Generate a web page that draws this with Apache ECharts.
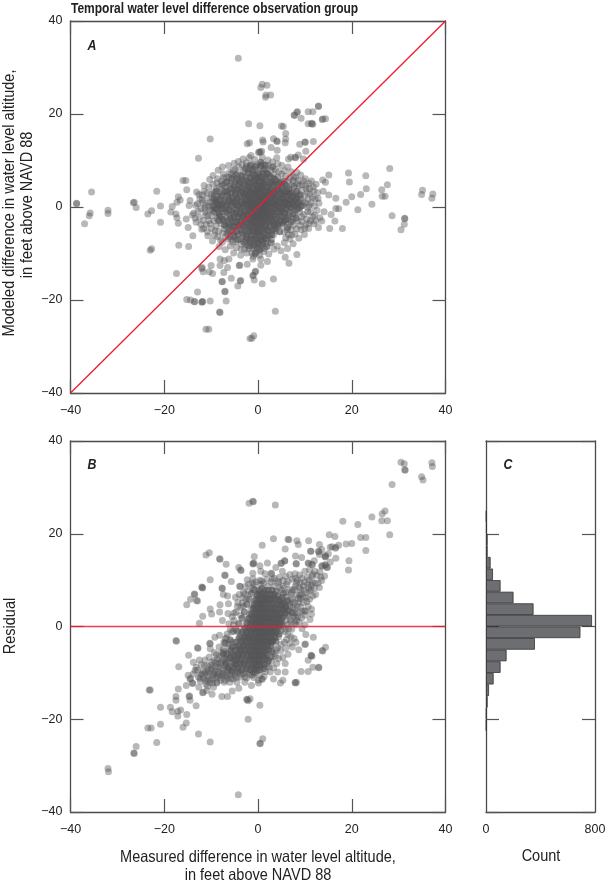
<!DOCTYPE html>
<html><head><meta charset="utf-8">
<style>html,body{margin:0;padding:0;background:#fff}#c{width:606px;height:884px}</style>
<script src="https://cdn.jsdelivr.net/npm/echarts@6/dist/echarts.min.js"></script>
</head><body><div id="c"></div>
<script>
const titleText = "Temporal water level difference observation group";
const outerA = [[-38.7,.8],[-38.7,.7],[-35.5,3.2],[-35.8,-1.3],[-36,-1.9],[-37,-3.6],[-32,-.7],[-32,-1.4],[-26.6,.9],[-26.4,1],[-26,-.1],[-21.6,3.4],[-20.8,.2],[-22.7,-.8],[-23.5,-1.5],[-20.8,-3.3],[-23,-9.3],[-22.7,-9],[-16.9,-8.2],[-14.8,-8.5],[-16,5.7],[-15.4,5.7],[-15.2,3.7],[-17,2.2],[-16.6,1.5],[-17.3,1],[-18.3,.1],[-18.6,-1.1],[-17.5,-1.5],[-17.3,-2.3],[-17,-3.5],[-15.3,-2.6],[-14.9,-4.4],[-13.9,-6.2],[-14.7,.3],[-14.5,1.4],[-14,-1.7],
[28.1,8.3],[19.3,7.3],[23,6.7],[19.5,5.4],[27.6,4.8],[15.1,6.9],[14.4,5.3],[13.8,5.8],[23.1,3.9],[21.9,2.7],[26.4,3.7],[26.5,2.3],[27.1,2.3],[20,2.2],[18.8,1],[24.3,.6],[21.3,-.6],[16.6,1.9],[15.1,2.6],[13.9,3.4],[16.6,-.3],[17.2,-.4],[15.6,-1.6],[14.1,-1],[16.4,-3],[18,-4.6],[15.3,-4.6],[13.6,-3],[28.6,-1.9],[31.3,-2.4],[31.3,-2.5],[31.2,-3.7],[30.5,-4.9],[35.1,3.6],[34.9,2.7],[37.3,2.8],[37.1,1.9],
[-4.2,32],[.9,26.4],[1.9,26.2],[.6,25.7],[1.7,24.1],[2.7,24.1],[1.6,23.6],[12.9,21.7],[12.9,21.6],[8.4,20.5],[8.3,20.4],[7.7,19.8],[7.8,19.7],[10.7,20.5],[11.7,20.5],[9.2,19.1],[10.7,17.9],[11.4,17.9],[11.5,18],[11.7,17.8],[13.8,18.9],[13.7,18.8],[14.4,19],[-2,17.9],[.4,17.5],[5,17.4],[5.4,17.3],[5.9,15.8],[5.9,14.6],[5.8,13.8],[3.3,14.7],[4,14.2],[4.1,14.1],[1,14.4],[1.1,14],[-1.8,13.8],[-2.3,13.6],[-10.2,14.6],[10,14],[10.1,13.9],[11.8,14.1],[8.9,13.5],[2.8,12.8],[4.1,12.2],[10.2,12],[.3,11.9],[.5,11.8],[.1,11.7],[.8,12],[-1.5,11.1],[-12.7,10.5],[4,10.6],[8.6,11.2],[7.9,10.7],[8,10.6],[7,10.7],[6.5,10.3],[9.7,10.3],
[-17.4,-14.3],[-12.9,-18.3],[-15.2,-19.9],[-14.4,-20],[-13.6,-20.4],[-13.5,-20.3],[-11.9,-20.4],[-12,-20.5],[-11.8,-20.3],[-10.2,-20.2],[-6.8,-20.2],[-7.1,-18.2],[-7,-18.1],[-8.2,-22.6],[-8.1,-22.7],[-7.7,-16.1],[-7.6,-16],[-5.7,-15.3],[-3.7,-15.8],[-3.8,-15.9],[-4.3,-17],[-1,-14.7],[-1.1,-14.8],[-.5,-13.8],[-.6,-13.9],[-.8,-15.7],[.9,-16.5],[3.3,-15.5],[3.7,-22.4],[-11.1,-26.3],[-10.5,-26.3],[-1.7,-28.3],[-1.3,-28.2],[-.9,-27.7],[-11.9,-13],[-10,-12.6],[-8.1,-12.6],[-8.1,-11.2],[-6.5,-13],[-7.3,-14.1],[-10.4,-13.9],[-9.7,-14.3],[-12,-13.2],[-11.7,-13.9],[-7.2,-11.5],[-6.2,-11.2],[-3.9,-12.5],[-4,-12.6],[-2.3,-12.3],[-1.1,-11.2],[.6,-11.2],[.6,-12.5],[2,-11.7],[5.8,-10.8],[6.6,-12.1],[8.3,-10.2]];
const haloA = [[-13.1,3.2],[-12.4,1.8],[-13.3,.4],[-12.8,-.9],[-13.4,-2.4],[-12.2,-3.7],[-11.5,4.6],[-11.8,.9],[-11.1,-1.8],[-11.6,-4.6],[-10.7,-6.2],[-10.3,5.9],[-10.9,3],[-10.5,-2.9],[-9.6,6.8],[-9.9,-.6],[-9.2,-5.1],[-9.7,-7.3],[-8.5,7.9],[-8.8,5.2],[-8.6,-6.4],[-8.3,-8.5],[-7.6,8.6],[-7.3,6.3],[-7.6,-7.6],[-7,-9.2],[-6.3,8.9],[-6.1,7.4],[-6.4,-6.9],[-5.9,-8.4],[-5.1,9.4],[-5.3,7.9],[-5.2,-9.9],[-4.6,-8.7],[-4.2,9.8],[-3.7,-10.4],[-3.2,10.3],[-2.4,-9.9],[-1.9,10.6],[-1,-10.6],[-.7,10.2],[.3,-10.4],[.9,10.7],[1.2,-9.6],[2.1,10.1],[2.3,-10.1],[3.1,9.7],[3.4,-9.1],[4.2,9.3],[4.1,-8.4],[5.1,8.9],[4.9,-9.4],[5.7,7.8],[5.6,-7.7],[6.4,8.6],[6.3,-8.9],[7.1,7.6],[6.8,-6.9],[7.6,6.4],[7.5,-7.9],[8.3,7.5],[7.9,-5.8],[8.6,5.7],[8.7,-6.7],[9.1,6.9],[9.2,-4.9],[9.4,4.8],[9.9,-5.9],[10.1,6.1],[10.2,-3.8],[10.3,3.9],[10.8,-4.6],[10.9,5.1],[11.2,-2.9],[11.1,2.8],[11.9,-3.6],[11.8,4.3],[12.1,-1.8],[12.2,1.7],[12.7,3.1],[12.6,-.7],[13,.8],[13.2,-2.3],[12.9,-4.4],[-6.6,-5.7],[-5.7,-7],[8.9,-.2],[9.6,1.1],[9.3,-2.1],[10.6,-1],[10.9,.4],[-9.8,2.1],[-10.6,.2],[-11.4,-.3],[-11.9,2.6]];
const armsA = [[-13.7,-1.3],[-13.2,-3.3],[-12.9,.7],[-12.6,2.7],[-12.5,-2.2],[-12.2,-.4],[-12,-4.8],[-11.9,1.5],[-11.7,-2.9],[-11.5,3.4],[-11.3,-1.1],[-11.2,.4],[-11,-3.8],[-10.9,1.9],[-10.8,-5.3],[-10.7,-1.9],[-10.5,4.3],[-10.4,.9],[-10.3,-.7],[-10.2,-3.6],[-10,2.8],[-9.9,-4.7],[-9.8,-1.9],[-9.7,.2],[-9.6,4.9],[-9.5,3.3],[-9.4,-3],[-9.3,-6.1],[-9.1,1.2],[-9,-1.2],[-8.9,-4.1],[-8.8,3.9],[-8.7,-.4],[-8.6,6.1],[-8.5,1.6],[-8.4,-5.2],[-8.3,-2],[-8.2,4.4],[-8,-7.1],[-7.9,-3.6],[-7.8,5.6],[-7.7,.4],[-7.5,-5.6],[-7.4,7.1],[-7.2,-4.7],[-7,5.1],[-6.9,-6.4],[-6.7,6.4],[-6.4,-5.4],[-6.2,6.3],[-5.9,-6.4],[-5.7,7.1],[-5.4,-7.6],[-4.9,8.1],[-4.7,-7.4],[-4.1,8.6],[-3.6,-9.1],[-3.4,9.1],[-2.5,9.5],[7.6,-3.9],[7.9,-1.6],[8.1,3],[8.2,-4.7],[8.4,.7],[8.5,-3],[8.6,2.4],[8.8,4.6],[8.9,-1.1],[9,-4],[9.1,1.7],[9.3,3.6],[9.4,-3.1],[9.6,.3],[9.7,5.6],[9.8,-1.6],[9.9,2.4],[10,-4.6],[10.1,.9],[10.2,4.6],[10.4,-2.6],[10.5,3.1],[10.6,-.1],[10.7,1.7],[10.9,-3.5],[11,4],[11.2,-1.1],[11.3,.9],[11.4,5.6],[11.6,2.1],[11.7,-2.1],[11.9,3.4],[12,.2],[12.3,-3],[12.4,4.9],[12.8,1.9],[5.6,-5.4],[5.9,-6.6],[6.2,-4.9],[6.5,-5.9],[6.7,-3.7],[7,-4.9],[7.2,-6],[7.4,-2.6],[6.5,5.4],[6.8,6.3],[7.2,4.9],[7.5,5.7],[8,6.4],[8.4,5],[5.9,6.6],[5,7.1],[4.4,7.6],[3.7,8.1]];
const coreA = [[-.2,9.1],[1,9.3],[-1.4,9.2],[2.2,8.9],[-2.5,8.8],[.4,8.4],[-.8,8.1],[1.6,8.2],[-1.9,8.3],[2.8,7.9],[-3.1,7.7],[.1,7.5],[1,7.2],[-1.1,7.3],[2,7.4],[-2.2,7.1],[3.4,7],[-3.6,6.9],[-4.4,7.2],[.5,6.6],[-.4,6.3],[1.4,6.5],[-1.5,6.4],[2.4,6.7],[-2.6,6.3],[3.3,6.2],[-3.5,6.1],[4.2,6.4],[-4.6,6],[-5.2,6.5],[.1,5.7],[.9,5.4],[-.9,5.6],[1.9,5.6],[-1.9,5.3],[2.9,5.3],[-2.9,5.5],[3.9,5.5],[-3.9,5.2],[4.8,5.3],[-4.8,5.4],[-5.7,5.1],[5.6,5.6],[-.3,4.8],[.5,4.5],[1.4,4.7],[-1.3,4.6],[2.3,4.4],[-2.2,4.8],[3.3,4.6],[-3.3,4.4],[4.2,4.3],[-4.2,4.6],[5.2,4.7],[-5.1,4.3],[6.1,4.5],[-6.1,4.6],[-6.9,4.1],[.1,3.9],[-.7,3.6],[1,3.7],[1.8,3.4],[-1.6,3.8],[2.7,3.8],[-2.5,3.5],[3.6,3.4],[-3.5,3.7],[4.6,3.6],[-4.5,3.3],[5.5,3.3],[-5.5,3.7],[6.6,3.6],[-6.5,3.2],[7.3,3.1],[-7.4,3.5],[-8.1,3.1],[-.2,2.9],[.6,2.6],[1.4,2.8],[-1,2.7],[2.2,2.5],[-1.9,2.9],[3.1,2.7],[-2.9,2.5],[4,2.4],[-3.8,2.8],[5,2.8],[-4.8,2.4],[5.9,2.4],[-5.8,2.8],[6.8,2.6],[-6.8,2.3],[7.7,2.3],[-7.7,2.7],[8.3,1.9],[-8.6,2.2],[-9.3,2.6],[.1,1.9],[-.7,1.7],[.9,1.6],[1.8,1.9],[-1.6,1.5],[2.7,1.6],[-2.4,1.9],[3.6,1.8],[-3.4,1.5],[4.5,1.5],[-4.3,1.9],[5.4,1.8],[-5.3,1.4],[6.3,1.5],[-6.2,1.8],[7.2,1.4],[-7.2,1.5],[8,1.2],[-8.1,1.6],[-9,1.3],[-9.8,1.1],[-.3,1],[.5,.8],[1.3,1],[-1.1,.7],[2.2,.6],[-2,1],[3.1,.9],[-2.9,.6],[4,.6],[-3.8,.9],[4.9,.9],[-4.7,.5],[5.8,.6],[-5.7,.9],[6.8,.8],[-6.7,.5],[7.6,.4],[-7.6,.8],[8.4,.6],[-8.5,.4],[-9.4,.3],[.1,.1],[-.6,-.2],[.9,-.1],[1.7,.1],[-1.5,-.1],[2.6,-.2],[-2.4,.1],[3.5,.1],[-3.3,-.3],[4.4,-.3],[-4.2,0],[5.3,0],[-5.2,-.3],[6.2,-.3],[-6.1,0],[7.2,-.2],[-7.1,-.4],[7.9,-.7],[-8,-.1],[-8.9,-.5],[-.2,-.9],[.6,-1.2],[1.3,-.9],[-1.1,-1.1],[2.1,-1.2],[-2,-.8],[3,-1],[-2.9,-1.3],[3.9,-1.2],[-3.8,-.9],[4.8,-.9],[-4.7,-1.3],[5.7,-1.2],[-5.6,-.9],[6.6,-1.1],[-6.5,-1.3],[-7.5,-1],[-8.4,-1.3],[-9.5,-1.1],[.1,-1.9],[-.7,-2.2],[.9,-2.1],[1.7,-1.9],[-1.5,-2],[2.6,-2.2],[-2.4,-1.9],[3.4,-1.9],[-3.3,-2.3],[4.3,-2.2],[-4.2,-1.9],[5.2,-1.9],[-5.1,-2.3],[6,-2.3],[-6,-2],[-6.9,-2.3],[-7.8,-2.1],[-8.7,-2.5],[-.3,-2.9],[.5,-3.2],[1.2,-2.9],[-1.1,-3.1],[2.1,-3.2],[-2,-2.8],[3,-2.9],[-2.8,-3.3],[3.8,-3.2],[-3.7,-2.9],[4.7,-3],[-4.6,-3.3],[5.6,-3.1],[-5.5,-2.9],[-6.4,-3.2],[-7.3,-3],[.1,-3.9],[-.6,-4.2],[.8,-4.1],[1.7,-3.9],[-1.5,-4],[2.5,-4.2],[-2.4,-3.9],[3.4,-4],[-3.2,-4.3],[4.2,-4.1],[-4.1,-3.9],[5,-4],[-5,-4.2],[-5.9,-4],[-6.7,-4.2],[-.2,-4.9],[.5,-5.2],[1.3,-4.9],[-1,-5.1],[2.1,-5.1],[-1.9,-4.9],[3,-5],[-2.8,-5.2],[3.8,-5.1],[-3.6,-4.9],[-4.5,-5.1],[-5.4,-5],[.1,-5.9],[-.6,-6.2],[.9,-6.1],[1.7,-5.9],[-1.5,-6],[2.5,-6.2],[-2.4,-5.9],[3.3,-6],[-3.3,-6.2],[-4.2,-5.9],[-4.9,-6.2],[-.2,-6.9],[.6,-7.1],[1.3,-6.9],[-1.1,-7.1],[2,-7.1],[-2,-6.9],[2.9,-7],[-2.8,-7.1],[-3.7,-6.9],[.1,-7.9],[-.7,-8.1],[.9,-8],[1.6,-7.9],[-1.6,-7.9],[-2.5,-8.1],[-3.5,-8],[-.2,-8.8],[.6,-9],[-1.1,-9],[1.4,-8.9],[-2,-8.9],[-2.9,-9.1],[-.3,-9.7],[-1.3,-9.9]];
const denseA = [[-8.7,.9],[-8.2,-1.6],[-7.9,2.3],[-7.7,-.4],[-7.4,-2.7],[-7.2,1.2],[-7,3.4],[-6.8,-1.1],[-6.7,.2],[-6.5,2.6],[-6.3,-3.7],[-6.2,-.7],[-6,1.4],[-5.9,3.9],[-5.8,-2.4],[-5.6,.4],[-5.5,2.1],[-5.4,-4.3],[-5.3,-1.3],[-5.1,4.8],[-5,.9],[-4.9,-3.2],[-4.8,2.9],[-4.7,-.6],[-4.6,-5.4],[-4.5,1.7],[-4.4,3.8],[-4.3,-2.2],[-4.2,.3],[-4.1,5.7],[-4,-4],[-3.9,2.2],[-3.8,-1.4],[-3.7,4.2],[-3.6,-.2],[-3.6,-3],[-3.5,1.1],[-3.4,6.6],[-3.3,-5.6],[-3.2,3.1],[-3.1,-1.9],[-3,.7],[-2.9,4.9],[-2.9,-4.1],[-2.8,2.3],[-2.7,-.9],[-2.6,-2.7],[-2.6,1.4],[-2.5,5.7],[-2.4,-6.6],[-2.4,3.6],[-2.3,-1.6],[-2.2,.4],[-2.2,-3.6],[-2.1,7.4],[-2.1,2.3],[-2,-5.3],[-1.9,4.3],[-1.9,-.5],[-1.8,1.3],[-1.8,-2.5],[-1.7,6.2],[-1.7,-7.4],[-1.6,3],[-1.6,-4.4],[-1.5,.2],[-1.4,-1.4],[-1.4,5.2],[-1.3,1.9],[-1.3,-3.3],[-1.2,7.9],[-1.2,-6],[-1.1,3.9],[-1.1,-.6],[-1,-2.3],[-1,1.2],[-.9,6.7],[-.9,-8.4],[-.8,2.8],[-.8,-4.7],[-.7,.4],[-.7,-1.5],[-.6,4.9],[-.6,-3.2],[-.5,8.7],[-.5,1.6],[-.5,-6.9],[-.4,-.3],[-.4,3.3],[-.3,-2.2],[-.3,-5.4],[-.2,6.1],[-.2,.8],[-.1,-1.1],[-.1,4.4],[-.1,-3.9],[0,2.2],[0,-7.7],[.1,7.1],[.1,-.4],[.2,-2.6],[.2,1.2],[.2,-5.4],[.3,3.6],[.3,-9.2],[.4,-1.4],[.4,5.4],[.4,.3],[.5,-3.7],[.5,2],[.6,8.9],[.6,-6.4],[.6,-.6],[.7,4],[.7,-2.3],[.8,1.1],[.8,6.4],[.8,-4.6],[.9,-.9],[.9,2.8],[1,-7.6],[1,.3],[1.1,4.9],[1.1,-3],[1.2,-1.5],[1.2,7.9],[1.3,1.8],[1.3,-5.6],[1.4,-.4],[1.4,3.4],[1.5,-2.3],[1.5,.8],[1.6,5.9],[1.6,-4.2],[1.7,-1],[1.8,2.4],[1.8,-6.7],[1.9,.1],[1.9,4.3],[2,-2.8],[2,7.1],[2.1,1.4],[2.2,-1.6],[2.2,-5],[2.3,3.1],[2.4,-.4],[2.5,5.1],[2.5,-3.6],[2.6,1.9],[2.7,-2.2],[2.7,6.4],[2.8,.4],[2.9,3.6],[2.9,-5.9],[3,-1.1],[3.1,2.1],[3.2,-3.4],[3.3,4.9],[3.3,.8],[3.4,-1.8],[3.5,2.9],[3.6,-4.6],[3.7,-.4],[3.7,5.9],[3.8,1.4],[3.9,-2.6],[4,3.6],[4.1,.2],[4.2,-3.6],[4.3,2.1],[4.4,-1],[4.5,5.1],[4.6,-5.3],[4.7,.9],[4.8,3],[4.9,-2],[5,-.3],[5.1,4.2],[5.2,1.7],[5.3,-3.4],[5.4,.2],[5.5,2.7],[5.6,-1.4],[5.7,4.9],[5.8,1],[5.9,-2.8],[6,3.3],[6.1,-.5],[6.2,2],[6.3,-4.4],[6.4,.6],[6.5,3.9],[6.6,-1.8],[6.8,1.5],[6.9,-.1],[7,3],[7.1,-3.1],[7.3,.8],[7.4,2.2],[7.5,-1.4],[7.7,4.4],[7.8,.1],[8,1.7],[8.1,-2.4],[8.3,3.4],[8.5,-.4],[8.7,1.1],[9,2.6],[9.2,.2],[-9.2,-.2],[-9.4,1.8],[-8.9,3.4],[-8.4,-2.9],[-8.1,.4],[-7.6,4.8],[-7.1,-3.9],[-6.6,5.4],[-6.1,-5.1],[-5.6,6.1],[-5.2,-6.3],[-4.7,6.9],[-4.3,-7],[.6,9.6],[1.6,9],[-1.6,8.9],[-2.7,8.2],[3.1,8.6],[-.6,-10],[1.9,-8.5],[2.8,-7.7],[-2,-8.4],[-3,-7.6]];
const outerB = [[-4.2,-36.3],[-32,-30.6],[-31.9,-31.3],[-26,-25.9],[-26.4,-27.4],[-26.5,-27.3],[-21.6,-25],[-23.5,-21.9],[-22.8,-21.9],[-20.8,-21.1],[-16,-21.7],[-15.3,-20.8],[-12.7,-23.2],[-10.2,-24.9],[-23,-13.7],[-23.2,-13.7],[-20.8,-17.4],[-18.7,-17.4],[-18.3,-18.4],[-17.1,-19.3],[-17.1,-18.3],[-16.5,-18],[-15.2,-19],[-17.5,-15.1],[-17.5,-15.9],[-17,-13.5],[-14.7,-15.1],[-14.6,-15],[-14.5,-15.9],[-13.2,-17.1],[-16.9,-8.7],[-14.8,-6.2],[-13.8,-7.7],[-12.5,-7.2],[-12.9,-4.6],[-12.8,-4.7],[-17.4,-3.2],[-10.2,-3.7],[-10.3,-3.6],[-10.2,-4.8],[-14.9,-10.5],[-15.3,-12.7],[-14.5,-11.3],[-14.4,-11.2],[-14,-12.2],[-13.9,-12.3],[-13.4,-9.5],[-13.8,-10.2],[-12.6,-13.1],[-11.7,-14.2],[-11.8,-14.3],[-10.9,-13.8],[-9.8,-14.6],[-7.7,-15.1],[-6.5,-15.1],[-5.5,-13.9],[-4.1,-13.3],[-2.3,-15.8],[-2.4,-15.7],[-1.7,-15.6],[-2.1,-20],[.4,-17],[.4,-25.3],[.5,-25.2],[1,-24.2],[-10.9,-9.8],[-8.8,-12],[-7.2,-12],[-6,-12],[-4.5,-12],[-2.8,-12],[-1.4,-12.7],[.1,-11.6],[-10.8,-12.9],[-9.5,-13.1],
[13.7,-5.2],[13.8,-5.3],[14.4,-4.5],[11.4,-6.3],[11.5,-6.4],[11.3,-6.2],[10.7,-7.3],[12.9,-8.8],[13,-8.9],[11.7,-8.8],[10.7,-9.7],[9.2,-9.7],[10,-3.9],[10.1,-3.8],[8.7,-5],[11.8,-2.3],[10.2,-1.7],[9.4,-.5],[10,.4],[11.1,1.5],[10,3.4],[10.1,3.3],[11.4,3.8],[11.4,2.7],[7.9,2.9],[8.8,.9],[5.8,-8],[5.8,-9.8],[4,-8],[4.2,-9.8],[2.6,-9.8],[3.3,-11.3],[5.3,-11.6],[4.8,-12.2],[7.9,-12.1],[8,-12.2],[8.2,-12],[-2.1,-16],[.8,-11.3],[.9,-11.4],[.1,-12.2],
[-1.9,26.6],[-1.1,27],[-1,26.9],[3.7,26.2],[-11.1,15.4],[-10.4,15.9],[-8.2,14.6],[-8.1,14.5],[-6.8,13.4],[-4.1,12.7],[-3.7,12.2],[-3.6,12.1],[-7.1,11.1],[-7,11],[-10.2,10.1],[-5.7,9.7],[-11.9,8.4],[-12,8.5],[-11.8,8.3],[-7.7,8.3],[-7.6,8.2],[-3.9,8.7],[-3.8,8.6],[-13.6,7],[-13.5,6.9],[-14.4,5.9],[-13.1,5.6],[-7.4,6.9],[-6.5,6.6],[.9,17.5],[3.3,18.9],[6.4,18.8],[5.8,16.7],[-.8,15.1],[-1,13.6],[-1.1,13.5],[-.9,13.7],[2,13.7],[.4,13.1],[5,13.7],[5.7,14.2],[3.8,12.7],[2.8,11.5],[2.9,11.4],[.6,11.9],[-1.1,11.5],[-2.3,10.1],[-1.1,10.3],[1.5,11.4],[5.2,11.9],
[30.5,35.4],[31.2,35.1],[31.3,33.8],[31.4,33.7],[37.1,35.3],[37.2,34.5],[34.9,32.3],[35.2,31.6],[28.6,30.6],[27.1,24.9],[26.5,24.3],[24.3,23.6],[26.4,22.8],[27.6,22.8],[18.1,22.7],[21.3,22],[28.1,19.8],[21.9,19.2],[23,19.2],[23,16.4],[18.8,17.8],[20,17.9],[15.2,19.8],[16.4,19.4],[6.6,18.7],[8.3,18.5],[8.6,17.7],[10.8,18.5],[13.1,17.7],[15.4,17.1],[16.5,16.9],[17.2,17.5],[11.3,16.2],[13.6,16.6],[12.9,16.2],[13,16.1],[15,15.7],[13.1,15.5],[14.3,15.1],[14.4,15],[8,15.2],[9.3,14.9],[8.1,13.6],[8.2,13.5],[12,14.2],[10.7,13.7],[10.8,13.6],[11.5,13.4],[11.6,13.3],[5.7,14.1],[4.9,13.6],[16.6,14.7],[15.4,13.9],[14.3,13.3],[13.6,13.1],[14.4,13.2],[13.7,13],[14.7,12.8],[14.8,12.7],[19.4,14.2],[19.3,12.2],[15.8,17.2],[16.6,17.1],[14.4,15.3],[11.2,16.2],
[-15.2,4.7],[-12.9,5.5],[-10.2,3.8],[-9.9,2.7],[-11.8,2.2],[-12.5,.7],[-8.1,4.7],[-8.2,3.1],[-6.3,4.9],[-7.6,1.3],[-17.5,-3],[-9.2,-2.3],[-8.2,-1.9]];
const haloB = [[-13.2,-8.8],[-12.7,-10.9],[-12.1,-8.2],[-12.3,-11.8],[-11.8,-9.6],[-11.6,-11.1],[-11.3,-7.2],[-11.1,-12.4],[-10.8,-8.5],[-10.7,-10.7],[-10.4,-6.6],[-10.2,-11.6],[-10,-9.2],[-9.9,-7.7],[-9.7,-12.2],[-9.5,-10.3],[-9.3,-5.6],[-9.1,-8.7],[-8.9,-11],[-8.7,-6.9],[-8.5,-9.8],[-8.3,-4.4],[-8.1,-7.9],[-8,-11.6],[-7.8,-5.6],[-7.6,-9.4],[-7.3,-3.4],[-7.2,-6.9],[-7.1,-10.6],[-6.9,-8.3],[-6.7,-2.4],[-6.5,-11.1],[-6.4,-9.6],[-6.2,-3.8],[-5.9,-10.4],[-5.6,-1.2],[-5.3,-11.3],[-5,-10],[-4.6,-11],[-4.3,-9.6],[-3.7,-10.9],[-3.1,-10.2],[-2.4,-11.1],[-1.7,-10.4],[-.9,-11],[.4,-10.5],[1.3,-10.8],[1.9,-8.6],[2.9,-7.4],[3.3,-8.9],[3.7,-6.4],[4.4,-6.9],[4.8,-5.3],[5.3,-6.7],[5.9,-4.7],[6.4,-6],[6.8,-3.6],[7.3,-4.4],[7.7,-2.6],[8.1,-3.4],[-5.3,-1],[-6.2,.6],[-5.5,2.1],[-6.4,2.8],[-4.7,3.1],[-5.2,.4],[-4.3,5.2],[-3.7,4.1],[-4.8,6.3],[-3.3,6.2],[-3.1,7.4],[-2.7,8.6],[-2,9.1],[-1.2,9.4],[-.4,9.6],[.4,10],[1.2,9.4],[1.9,10.2],[2.8,9.6],[3.5,10.4],[4.2,9.3],[4.6,10.6],[5.3,9.9],[5.9,10.8],[6.4,9.7],[6.8,11.2],[7.3,10.2],[7.9,11.4],[8.4,9.9],[8.9,11.1],[9.4,10.4],[10,11.9],[10.5,10.6],[11,12.2],[11.5,10.9],[12.1,11.9],[12.6,11],[13.2,11.8],[12.2,9.4],[11.4,8.9],[10.6,9.1],[9.7,8.8],[8.8,8.4],[7.9,8.7],[7.2,7.4],[6.5,8],[6.1,6.4],[7.3,6],[8.3,6.8],[9.2,7],[10.3,7.3],[11,7.6],[6.8,4.9],[7.5,4.1],[8.7,5.2],[9.1,4.2],[6.3,2.7],[6.9,1.4],[7.7,.7],[7.2,-.6],[6.4,-1.7],[5.8,-.5],[8,1.9],[13.6,9.9],[14.2,10.9],[13.1,8.4]];
const coreB = [[-6.6,-5.9],[-6,-6.8],[-5.8,-5.2],[-5.4,-7.6],[-5.5,-4.4],[-5.1,-6.3],[-4.9,-8.2],[-4.8,-5.1],[-4.7,-3.4],[-4.5,-7.1],[-4.3,-9],[-4.2,-6],[-4.1,-4.2],[-3.9,-2.3],[-3.8,-8],[-3.7,-5.1],[-3.6,-7],[-3.5,-3.2],[-3.4,-9.3],[-3.3,-1.2],[-3.2,-6.1],[-3.1,-4.1],[-3,-8.2],[-2.9,-2.2],[-2.8,-.3],[-2.7,-5.1],[-2.6,-7.2],[-2.5,-3.2],[-2.4,-9.1],[-2.4,-1.2],[-2.3,.8],[-2.2,-6.1],[-2.1,-4.2],[-2,-8.2],[-2,-2.2],[-1.9,-.3],[-1.9,1.8],[-1.8,-5.2],[-1.7,-7.2],[-1.6,-3.2],[-1.6,-9.4],[-1.5,-1.3],[-1.5,.7],[-1.4,2.8],[-1.4,-6.2],[-1.3,-4.2],[-1.2,-8.3],[-1.2,-2.2],[-1.1,-.3],[-1.1,1.8],[-1,3.9],[-1,-5.2],[-.9,-7.2],[-.9,-3.2],[-.8,-9.1],[-.8,-1.2],[-.7,.8],[-.7,2.8],[-.7,4.9],[-.6,-6.2],[-.6,-4.2],[-.5,-8.3],[-.5,-2.2],[-.4,-.3],[-.4,1.8],[-.4,3.8],[-.4,5.9],[-.3,-5.2],[-.3,-7.2],[-.2,-3.2],[-.2,-9.5],[-.2,-1.2],[-.1,.8],[-.1,2.8],[-.1,4.9],[-.1,6.9],[0,-6.2],[0,-4.2],[.1,-8.2],[.1,-2.2],[.1,-.3],[.2,1.8],[.2,3.8],[.2,5.9],[.2,7.8],[.3,-5.2],[.3,-7.2],[.4,-3.2],[.4,-1.2],[.5,.8],[.5,2.8],[.5,4.9],[.5,6.9],[.6,-6.2],[.6,-4.2],[.7,-8.3],[.7,-2.2],[.8,-.3],[.8,1.8],[.8,3.8],[.8,5.9],[.8,8.2],[.9,-5.2],[.9,-7.2],[1,-3.2],[1,-1.2],[1.1,.8],[1.1,2.8],[1.1,4.9],[1.1,6.9],[1.2,-6.2],[1.2,-4.2],[1.3,-8.2],[1.3,-2.2],[1.4,-.3],[1.4,1.8],[1.4,3.8],[1.5,5.9],[1.5,7.8],[1.5,-5.2],[1.6,-7.1],[1.7,-3.2],[1.7,-1.2],[1.8,.8],[1.8,2.8],[1.8,4.9],[1.8,6.9],[1.9,-6.2],[1.9,-4.2],[2,-2.2],[2.1,-.3],[2.1,1.8],[2.1,3.8],[2.2,5.9],[2.2,7.8],[2.3,-5.1],[2.4,-3.2],[2.4,-1.2],[2.5,.8],[2.5,2.8],[2.5,4.9],[2.6,6.9],[2.7,-4.2],[2.7,-2.2],[2.8,-.3],[2.8,1.8],[2.9,3.8],[2.9,5.9],[3,7.8],[3.1,-3.2],[3.1,-1.2],[3.2,.8],[3.2,2.8],[3.3,4.9],[3.4,6.9],[3.5,-2.2],[3.5,-.3],[3.6,1.8],[3.7,3.8],[3.7,5.9],[3.9,-1.2],[4,.8],[4,2.8],[4.1,4.9],[4.2,6.6],[4.3,-.3],[4.4,1.8],[4.5,3.8],[4.6,5.6],[4.7,.8],[4.8,2.8],[5,4.7],[5.1,6.2],[5.2,1.9],[5.4,3.7],[5.5,5],[5.8,2.9],[5.9,4.2],[-7,-3.6],[-6.9,-7.9],[-7.4,-5.9],[-6.4,-8.8],[-5.9,-2.9],[-5.6,-9.6],[-4.4,-1],[-4.1,.6],[-3.4,1.8],[-2.9,3.1],[-2.4,4.8],[-1.9,5.9],[-1.4,7.1],[-.8,7.9],[3.9,7.6],[5.4,7.1],[6.2,5.6],[6.5,3.4],[5,.3],[4.5,-1.6],[3.8,-3.2],[3,-5.4],[2.2,-7.4],[.4,-9.3],[1.2,-9.1],[-.9,-9.8]];
const denseB = [[-8.6,-8.1],[-8.2,-6.4],[-7.9,-9.1],[-7.6,-7.2],[-7.4,-4.9],[-7.1,-8.4],[-6.8,-6.3],[-6.6,-9.4],[-6.3,-7.4],[-6.1,-4.7],[-5.9,-8.6],[-5.7,-6.1],[-5.5,-3.4],[-5.2,-9],[-5,-7.1],[-4.8,-4.2],[-4.6,-8.4],[-4.4,-5.9],[-4.2,-2.7],[-4,-7.3],[-3.9,-9.6],[-3.8,-4.6],[-3.6,-1.7],[-3.5,-6.4],[-3.4,-8.6],[-3.2,-3.4],[-3.1,-.7],[-3,-5.6],[-2.9,-7.6],[-2.8,-2.6],[-2.7,-9.7],[-2.6,.4],[-2.5,-4.4],[-2.4,-6.6],[-2.3,-1.9],[-2.2,1.6],[-2.2,-8.7],[-2.1,-3.4],[-2,-.7],[-1.9,-5.6],[-1.8,2.6],[-1.8,-7.6],[-1.7,-2.6],[-1.6,.3],[-1.6,-4.6],[-1.5,3.7],[-1.4,-8.8],[-1.4,-1.8],[-1.3,-6.6],[-1.2,1.2],[-1.2,-3.6],[-1.1,4.6],[-1.1,-.7],[-1,-5.7],[-.9,2.3],[-.9,-2.7],[-.8,-7.7],[-.8,.3],[-.7,-4.6],[-.6,5.6],[-.6,-1.6],[-.5,3.3],[-.5,-6.7],[-.4,1.1],[-.4,-3.6],[-.3,-.7],[-.3,-9],[-.2,6.6],[-.2,-5.6],[-.1,2.3],[-.1,-2.6],[0,4.4],[0,.3],[0,-7.6],[.1,-4.6],[.1,-1.6],[.2,7.3],[.2,1.2],[.3,-6.6],[.3,3.3],[.3,-3.6],[.4,-.7],[.4,5.4],[.5,-8.6],[.5,2.2],[.5,-2.6],[.6,.3],[.6,-5.6],[.7,4.3],[.7,-1.6],[.8,6.4],[.8,-3.6],[.9,1.2],[.9,-6.6],[1,3.3],[1,-.7],[1.1,-2.6],[1.1,5.4],[1.2,-4.6],[1.2,.3],[1.3,2.2],[1.3,7.4],[1.4,-1.6],[1.4,4.4],[1.5,-3.6],[1.5,-6.6],[1.6,.9],[1.7,-.7],[1.7,3.3],[1.8,6.3],[1.8,-2.6],[1.9,-5],[2,1.6],[2,4.6],[2.1,-1.4],[2.2,-3.7],[2.3,.4],[2.3,3.1],[2.4,5.7],[2.5,-2.4],[2.6,1.7],[2.6,-.6],[2.7,7],[2.8,-4],[2.8,3.9],[2.9,.7],[3,-1.7],[3.1,2.3],[3.1,5.1],[3.2,-3],[3.3,.1],[3.4,3.5],[3.5,1.3],[3.6,6.3],[3.6,-1],[3.7,-2.5],[3.8,2.7],[3.9,.4],[4,4.6],[4,-.6],[4.2,1.6],[4.3,3.4],[4.4,5.8],[4.4,-2.2],[4.6,.3],[4.7,2.4],[4.8,4.3],[4.9,-.9],[5,1.2],[5.2,3],[5.3,5.6],[5.4,.4],[5.6,2.3],[5.7,4.4],[5.8,-1.1],[6,1.4],[6.1,3.7],[6.3,.4],[6.4,5.3],[6.6,2.3],[6.8,4.3],[7,.9],[7.2,3],[7.4,5.4],[7.6,2.2],[7.9,3.8],[8.2,1.3],[8.4,4.4],[8.7,3],[9,6],[9.4,3.3],[-9.1,-9.6],[-9.4,-7.4],[-9.6,-10.7],[-10,-8.4],[-10.4,-10],[-10.9,-11.3],[-11.4,-9.9],[-12.2,-10.4],[-8.9,-6.1],[-8.6,-10.4],[-7.9,-10.6],[-7.3,-10],[-6.6,-10.7],[-5.7,-9.9],[5,7.9],[6,7.4],[7,6.8],[7.8,7.9],[8.6,6.1],[9.6,6.4],[10.4,5.4],[10.8,8.4],[11.6,9.6],[9.9,9.6],[9.1,8],[8.2,9.3],[-3.7,2.4],[-3.1,4.4],[-2.5,6.1],[-2,7.6],[-4.7,-.6],[-5.1,1.3],[-1.2,8.3],[.6,9.1],[2.1,8.7],[3.4,8.7],[4.7,8.4],[3,-6.6],[3.9,-5],[2,-7.9],[-.6,-10.1],[1.6,-9.7]];
const armsB = [[-12.9,-9.4],[-12.4,-11.2],[-11.9,-10.3],[-11.4,-8.4],[-11.2,-11.7],[-10.6,-9.4],[-10.3,-12.1],[-9.8,-8.9],[-9.6,-11.4],[-9.2,-10],[-9,-7.7],[-8.8,-12.2],[-8.4,-8.8],[-8.2,-11],[-7.8,-7.7],[-7.6,-10.3],[-7.2,-5.4],[-7,-11.6],[-6.7,-7.1],[-6.2,-9.1],[-5.8,-11.2],[-5.4,-8.7],[-4.9,-10.6],[-4.4,-9.9],[-3.6,-10.3],[-2.8,-10.9],[-2,-9.9],[-1.2,-10.5],[7.4,2.9],[7.8,5.1],[8.1,.4],[8.5,2.1],[8.9,6.7],[9.3,1.9],[9.7,5.2],[10,2.4],[10.3,6.3],[10.7,4.3],[11,5.9],[11.3,7.9],[11.7,6.6],[12,8.3],[12.3,6.9],[12.8,9.3],[13.4,10.6],[7.4,7.9],[8,10.4],[9,9.4],[9.8,7.8],[10.9,10],[11.7,11.2],[6.1,9.1],[5.4,8.7],[4.4,9.7],[3.1,10.2],[.8,9.8],[-.8,9],[-4,6.9],[-4.4,4.3],[-5.1,2.9],[-5.9,-.6],[-6.6,-1.6],[-7,-2.7],[-3.3,5.1],[-2.8,7],[5.6,-3.4],[6.1,-2.8],[6.6,-.4],[7,-2.2],[4.9,-3.9],[4.2,-4.6],[3.5,-5.8],[2.6,-6.7],[2.4,-8.7]];
const innerA = [[-4.6,1.1],[-4.1,-1.4],[-3.7,3.2],[-3.4,-3.6],[-3.1,.2],[-2.8,-1.7],[-2.6,2.8],[-2.3,4.3],[-2.1,-4.7],[-1.8,-.2],[-1.7,1.9],[-1.5,-2.9],[-1.3,-5.2],[-1.2,3.3],[-1,.4],[-.9,-1.8],[-.8,5.4],[-.6,-6.4],[-.5,2.6],[-.4,-3.9],[-.2,.2],[-.1,3.6],[0,-1.6],[.1,-5.1],[.2,6.3],[.3,1.6],[.4,-2.9],[.5,-7.1],[.6,.4],[.7,4.6],[.8,-1.2],[.9,-4.1],[1,2.2],[1.1,-6.4],[1.2,.9],[1.3,5.4],[1.4,-2.5],[1.6,3],[1.7,-.1],[1.8,-4.8],[1.9,1.4],[2,-1.9],[2.1,4.1],[2.3,-3.1],[2.4,.8],[2.6,2.6],[2.7,-1],[2.9,5.3],[3,-2.6],[3.1,1],[3.3,3.3],[3.4,-.3],[3.6,-3.9],[3.7,2],[3.9,.5],[4.1,-1.4],[4.3,3.8],[4.5,.7],[4.7,-2.8],[4.9,2.1],[5.1,-.8],[5.3,3.4],[5.5,1.1],[-5.1,-1.9],[-4.9,3.6],[-4.4,-3.3],[-3.9,5.3],[-3.5,-4.9],[-3,2.9],[-2.6,-6.1],[-2.4,.9],[-2,3],[-1.6,-6.9],[-1.4,.6],[-1.1,-3.9],[-.7,-7.8],[-.5,6.9],[-.2,-2.7],[.2,3],[.5,-8.4],[.8,2],[1.2,-3.4],[1.5,7.2],[1.8,.3],[2.2,-6.2],[2.8,3],[3.2,-4.8],[3.8,4.9],[4.4,-3.9],[5,5.6],[5.6,-3],[-6.3,1.1],[-6,-2.6],[-5.7,3.1],[-5.2,-3.9],[6,.7],[6.4,-2.4],[6.6,2.9]];
const innerB = [[-5.3,-5.7],[-4.9,-7.4],[-4.5,-4.6],[-4.1,-6.6],[-3.8,-3.1],[-3.5,-5],[-3.2,-7.9],[-2.9,-3.7],[-2.6,-5.8],[-2.4,-1.8],[-2.2,-4.8],[-2,-7],[-1.7,-.8],[-1.6,-3.9],[-1.4,-6],[-1.2,.6],[-1,-2.9],[-.9,-4.9],[-.7,-8],[-.6,2.1],[-.4,-1.1],[-.3,-3.1],[-.1,-6.1],[0,.9],[.1,3.9],[.2,-.8],[.3,-4.2],[.4,1.7],[.6,-2],[.7,5],[.8,-6],[.9,.2],[1,2.6],[1.1,-3.8],[1.3,-1.2],[1.4,1.1],[1.5,3.1],[1.6,-5.6],[1.7,.1],[1.9,2],[2.1,-2.9],[2.2,4.4],[2.4,-.1],[2.5,1.9],[2.7,-3.3],[2.8,3.1],[2.9,-1.2],[3.1,.4],[3.3,1.8],[3.4,4.3],[3.6,-1.6],[3.8,1.1],[4,3.2],[4.2,.2],[4.5,2.3],[4.7,5],[4.9,1.6],[5.2,3.8],[-1.9,-2.3],[-2.7,-2.7],[-3.3,-4.5],[-3.9,-5.7],[-1.1,-6.8],[-.6,-5.3],[.3,-7.7],[.6,-3.1],[1.8,-2],[.9,3.8],[-.2,1.5],[-1.3,2.2],[-.8,4.2],[2,5.6],[3,6.2],[1.4,6.2],[-4.4,-8.1],[-5.6,-6.6]];
const histCats = ["37.5","35","32.5","30","27.5","25","22.5","20","17.5","15","12.5","10","7.5","5","2.5","0","-2.5","-5","-7.5","-10","-12.5","-15","-17.5","-20","-22.5","-25","-27.5","-30","-32.5","-35","-37.5","-40"];
const histCounts = [null,null,null,null,null,null,3,6,12,12,34,51,107,202,349,778,693,359,151,107,56,22,12,4,3,null,null,null,null,null,null,null];

const FONT = '"Liberation Sans",Arial,sans-serif';
const lab = v => String(v).replace('-','\u2212');
const grids = [
 {left:70.5,top:21,width:375,height:372,outerBoundsMode:'none',containLabel:false},
 {left:70.5,top:441,width:375,height:371,outerBoundsMode:'none',containLabel:false},
 {left:486,top:441,width:109,height:371,outerBoundsMode:'none',containLabel:false}
];
const LINE = {show:true,onZero:false,lineStyle:{color:'#4a4a4a',width:1.3}};
const TICK = {show:true,inside:true,length:13,lineStyle:{color:'#555',width:1.2}};
const LABEL = {fontFamily:FONT,fontSize:12.5,color:'#222',margin:8,formatter:lab,showMinLabel:true,showMaxLabel:true,hideOverlap:false};
const LABELX = {...LABEL,margin:11};
function valAxis(i,pos,label){
 return {type:'value',gridIndex:i,position:pos,min:-40,max:40,interval:20,axisLine:LINE,axisTick:TICK,splitLine:{show:false},
  axisLabel:label||{show:false}};
}
function txt(t,x,y,size,opt){
 opt=opt||{};
 return {type:'text',x,y,rotation:opt.rot?Math.PI/2:0,scaleX:opt.sx||.88,z:20,
  style:{text:t,font:(opt.style||'')+' '+size+'px '+FONT,fill:'#222',textAlign:opt.align||'center',textVerticalAlign:'middle'}};
}
const option = {
 animation:false,
 grid:grids,
 xAxis:[
  valAxis(0,'bottom',LABELX),valAxis(0,'top'),
  valAxis(1,'bottom',LABELX),valAxis(1,'top'),
  {type:'value',gridIndex:2,min:0,max:800,interval:800,position:'bottom',axisLine:LINE,axisTick:{show:false},splitLine:{show:false},axisLabel:LABELX},
  {type:'value',gridIndex:2,min:0,max:800,interval:800,position:'top',axisLine:LINE,axisTick:{show:false},splitLine:{show:false},axisLabel:{show:false}}
 ],
 yAxis:[
  valAxis(0,'left',LABEL),valAxis(0,'right'),
  valAxis(1,'left',LABEL),valAxis(1,'right'),
  {type:'category',gridIndex:2,data:histCats,show:false,boundaryGap:true,inverse:true},
  valAxis(2,'left'),valAxis(2,'right')
 ],
 series:[
  {type:'scatter',xAxisIndex:0,yAxisIndex:0,data:[...outerA,...haloA,...armsA,...coreA,...denseA,...innerA,...denseA],symbolSize:7,itemStyle:{color:'#555658',opacity:.42},silent:true},
  {type:'line',xAxisIndex:0,yAxisIndex:0,data:[[-40,-40],[40,40]],showSymbol:false,lineStyle:{color:'#ed1c2e',width:1.3},z:5},
  {type:'scatter',xAxisIndex:2,yAxisIndex:2,data:[...outerB,...haloB,...armsB,...coreB,...denseB,...innerB,...coreB],symbolSize:7,itemStyle:{color:'#555658',opacity:.42},silent:true},
  {type:'line',xAxisIndex:2,yAxisIndex:2,data:[[-40,0],[40,0]],showSymbol:false,lineStyle:{color:'#ed1c2e',width:1.5,opacity:.85},z:5},
  {type:'bar',xAxisIndex:4,yAxisIndex:4,data:histCounts,barWidth:'100%',itemStyle:{color:'#6d6e71',borderColor:'#333',borderWidth:.8}}
 ],
 graphic:[
  txt(titleText,71,9,14,{style:'bold',align:'left',sx:.857}),
  txt('Modeled difference in water level altitude,',9,203,16.5,{rot:true}),
  txt('in feet above NAVD 88',27,205,16.5,{rot:true}),
  txt('Residual',10,626,16.5,{rot:true}),
  txt('Measured difference in water level altitude,',258,857,16.5),
  txt('in feet above NAVD 88',258,875,16.5),
  txt('Count',541,856,16.5),
  txt('A',92,46,14,{style:'italic bold'}),
  txt('B',92,465,14,{style:'italic bold'}),
  txt('C',508,465,14,{style:'italic bold'})
 ]
};
echarts.init(document.getElementById('c'),null,{renderer:'canvas'}).setOption(option);
</script></body></html>
